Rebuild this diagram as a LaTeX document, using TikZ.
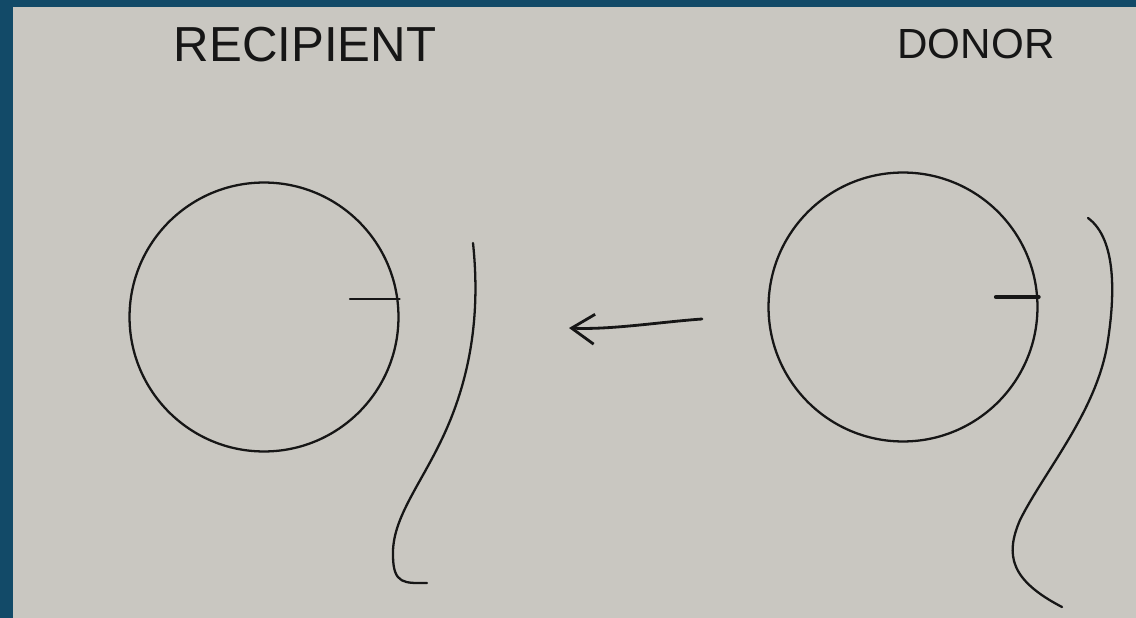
\documentclass[tikz,border=0pt]{standalone}
\usepackage{fontspec}
\setmainfont{Liberation Sans}
\usetikzlibrary{arrows.meta}
\definecolor{frameblue}{RGB}{18,74,104}
\definecolor{paper}{RGB}{201,199,193}
\definecolor{ink}{RGB}{22,22,22}
\begin{document}
\begin{tikzpicture}[
      x=0.02cm, y=-0.02cm,
      sketch/.style={
          draw=ink, line width=1.3pt,
          line cap=round, line join=round
      },
      cellnode/.style={
          circle, sketch,
          minimum size=5.38cm, inner sep=0pt
      },
      titlenode/.style={
          text=ink, inner sep=0pt, anchor=center
      }
  ]
    % background: blue frame and sheet of paper
    \fill[frameblue] (0,0) rectangle (1136,618);
    \fill[paper] (13,7) rectangle (1136,618);
    \useasboundingbox (0,0) rectangle (1136,618);

    % titles
    \node[titlenode, font=\fontsize{28}{30}\selectfont] (rectitle) at (305,45) {RECIPIENT};
    \node[titlenode, font=\fontsize{24}{26}\selectfont] (dontitle) at (976,44) {DONOR};

    % recipient cell (left)
    \node[cellnode] (recipient) at (264,317) {};
    \draw[sketch] (350,299) -- (recipient.east |- 0,299);
    \draw[sketch] (473,243) .. controls (479,300) and (476,370) .. (440,443)
        .. controls (418,488) and (392,520) .. (393,555)
        .. controls (393,585) and (405,583) .. (427,583);

    % donor cell (right)
    \node[cellnode] (donor) at (903,307) {};
    \draw[sketch, line width=2.4pt] (996,297) -- (donor.east |- 0,297);
    \draw[sketch] (1088,218) .. controls (1118,240) and (1114,300) .. (1108,340)
        .. controls (1098,410) and (1045,470) .. (1020,520)
        .. controls (1005,555) and (1010,580) .. (1062,607);

    % transfer arrow from donor to recipient
    \coordinate (arrowstart) at (702,319);
    \coordinate (arrowend) at (569,328);
    \draw[sketch, line width=1.6pt, -{Straight Barb[length=13pt, width=17pt]}] (arrowstart)
        .. controls (660,322) and (610,330) .. (arrowend);
  \end{tikzpicture}
\end{document}
